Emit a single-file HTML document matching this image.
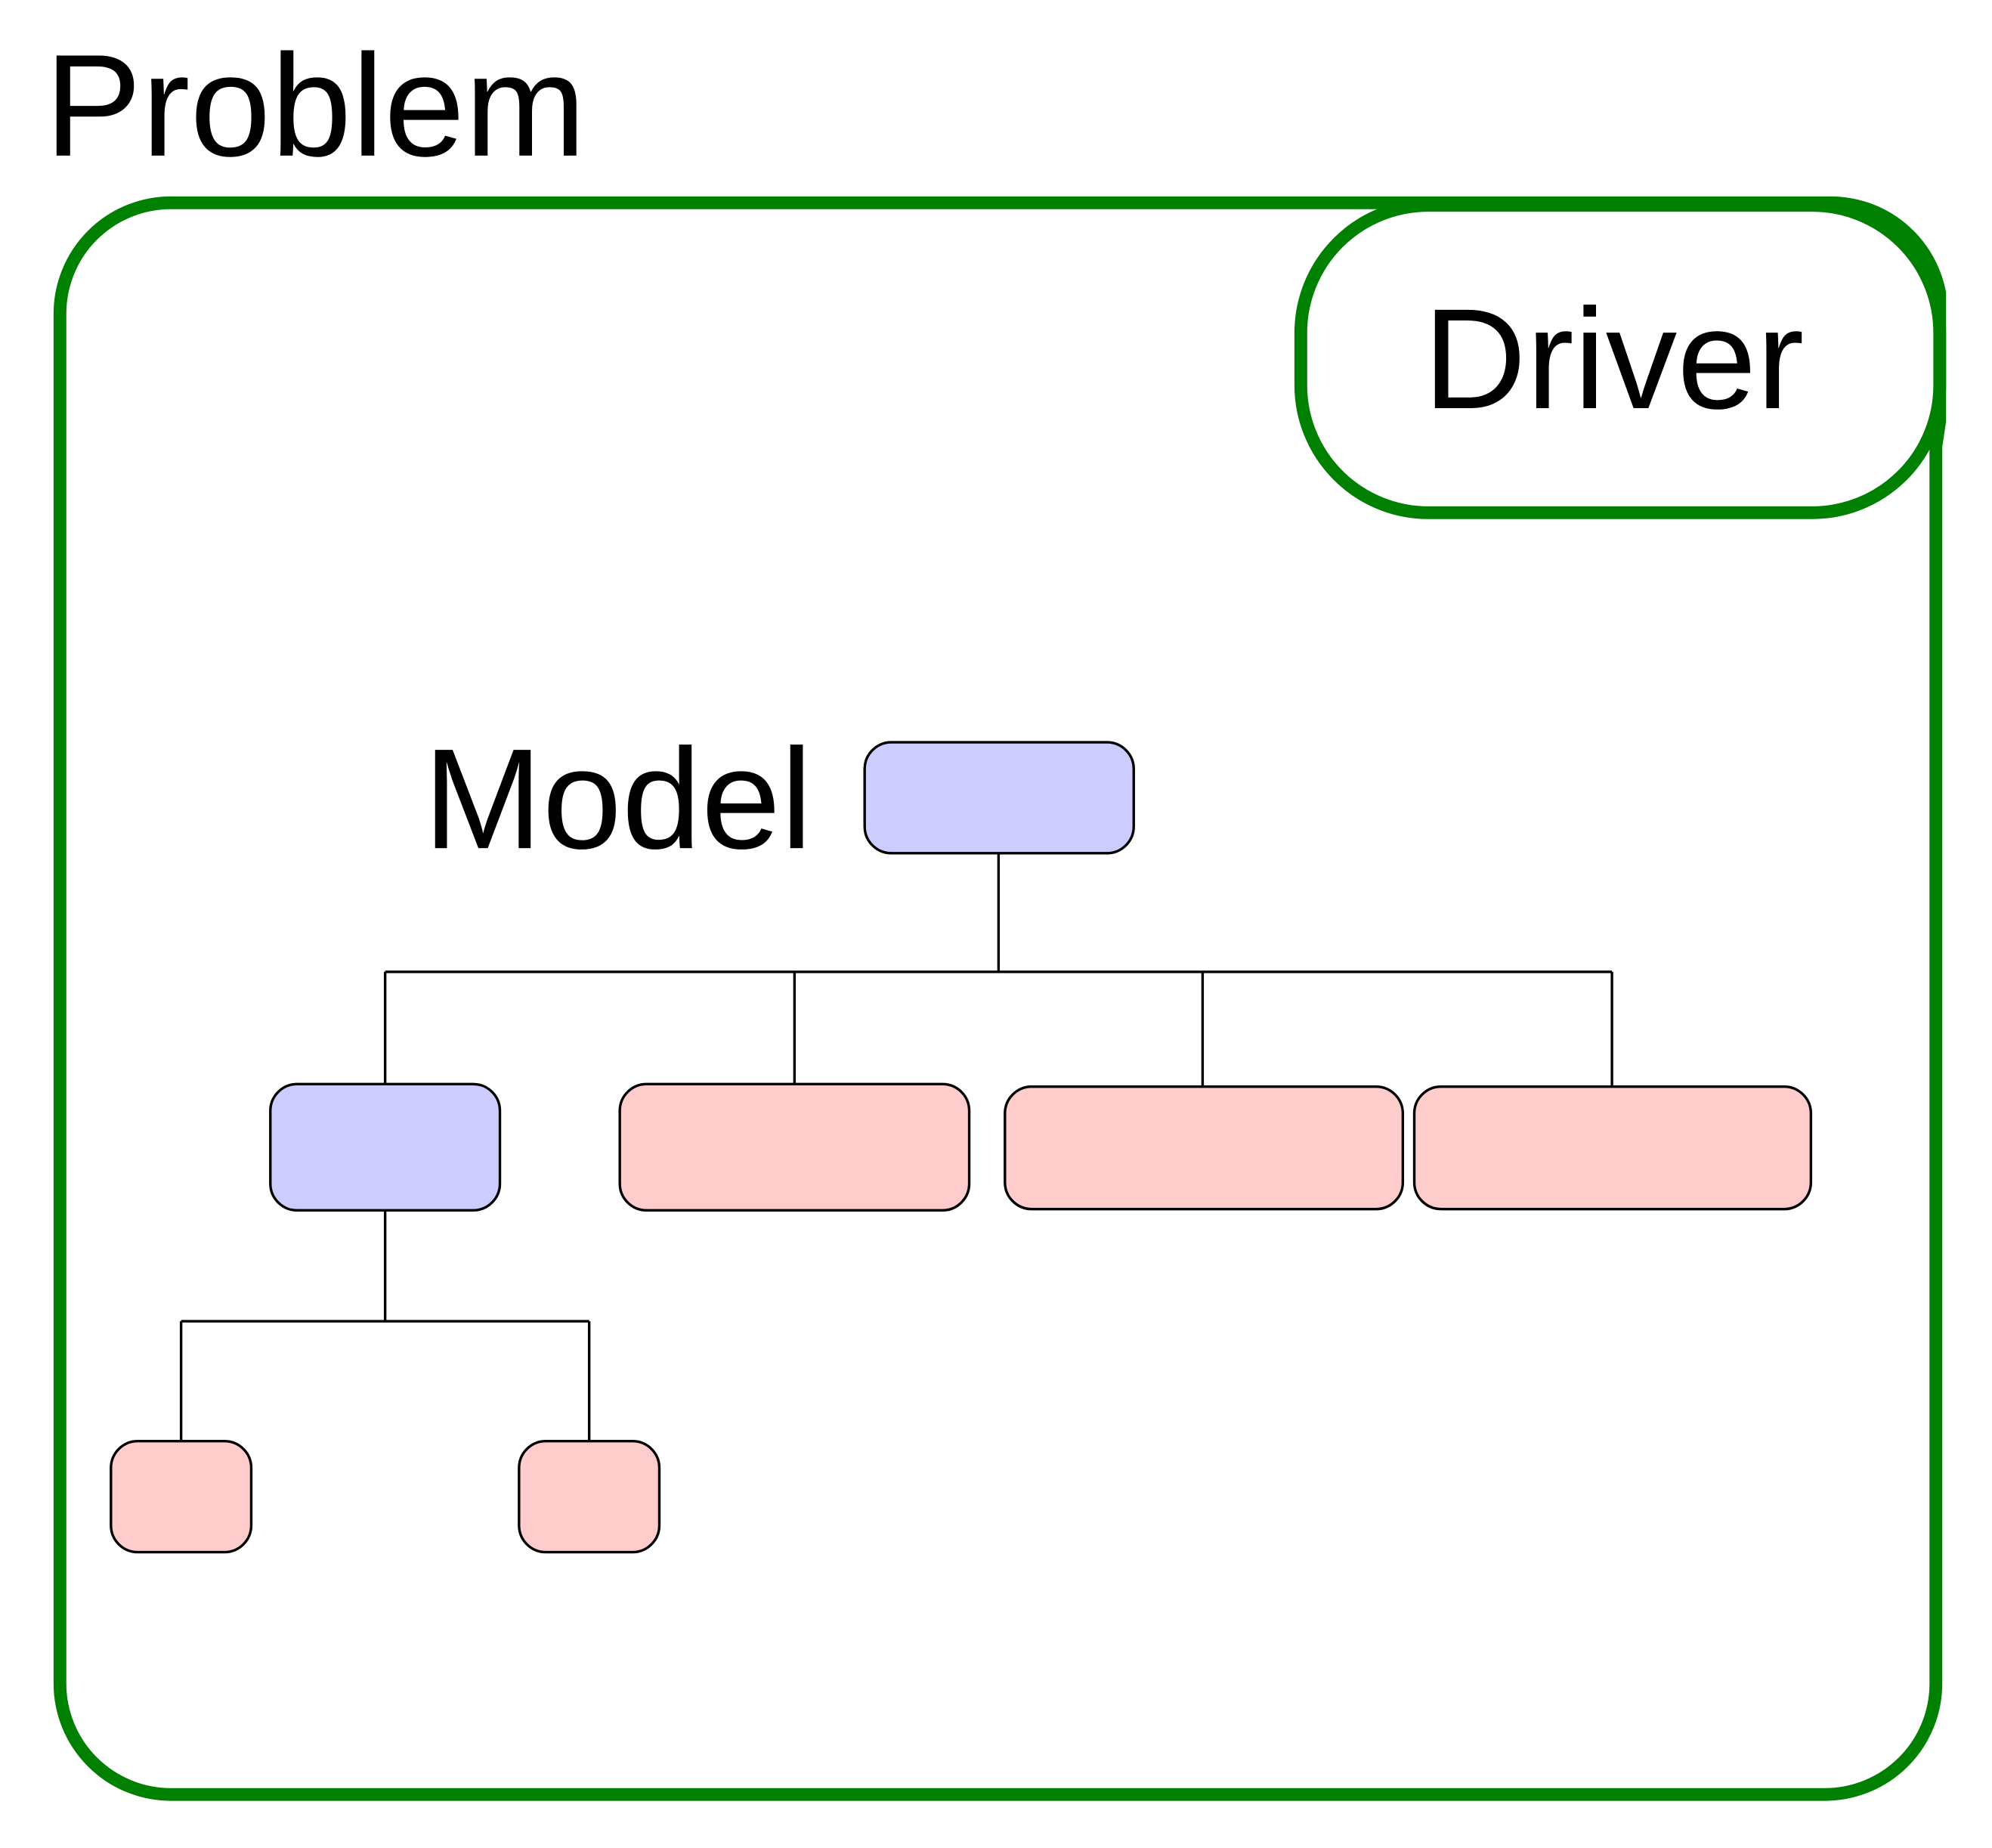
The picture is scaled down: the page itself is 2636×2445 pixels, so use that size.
<!DOCTYPE html>
<html><head><meta charset="utf-8"><style>html,body{margin:0;padding:0;background:#fff}svg{display:block}</style></head>
<body>
<svg width="2636" height="2445" viewBox="0 0 1562 1449" preserveAspectRatio="none" xmlns="http://www.w3.org/2000/svg" font-family="Liberation Sans, sans-serif">
<rect x="0" y="0" width="1562" height="1449" fill="#fff"/>
<text x="35" y="122" font-size="114">Problem</text>
<path d="M47,246 A87,87 0 0 1 134,159 L1435,159 A87,87 0 0 1 1521,230 L1521,330 L1518,350 L1518,1320 A87,87 0 0 1 1431,1407 L134,1407 A87,87 0 0 1 47,1320 Z" fill="none" stroke="#008000" stroke-width="10"/>
<rect x="1020" y="161" width="501" height="241" rx="100" ry="100" fill="#fff" stroke="#008000" stroke-width="10"/>
<text x="1116" y="320" font-size="112">Driver</text>
<text x="332" y="665" font-size="112">Model</text>
<g stroke="#000" stroke-width="2" fill="none">
<path d="M783,669 V762 M302,762 H1264 M302,762 V850 M623,762 V850 M943,762 V852 M1264,762 V852"/>
<path d="M302,949 V1036 M142,1036 H462 M142,1036 V1130 M462,1036 V1130"/>
</g>
<g stroke="#000" stroke-width="2">
<rect x="678" y="582" width="211" height="87" rx="21" fill="#ccccff"/>
<rect x="212" y="850" width="180" height="99" rx="21" fill="#ccccff"/>
<rect x="486" y="850" width="274" height="99" rx="21" fill="#ffcccc"/>
<rect x="788" y="852" width="312" height="96" rx="21" fill="#ffcccc"/>
<rect x="1109" y="852" width="311" height="96" rx="21" fill="#ffcccc"/>
<rect x="87" y="1130" width="110" height="87" rx="21" fill="#ffcccc"/>
<rect x="407" y="1130" width="110" height="87" rx="21" fill="#ffcccc"/>
</g>
</svg>
</body></html>
